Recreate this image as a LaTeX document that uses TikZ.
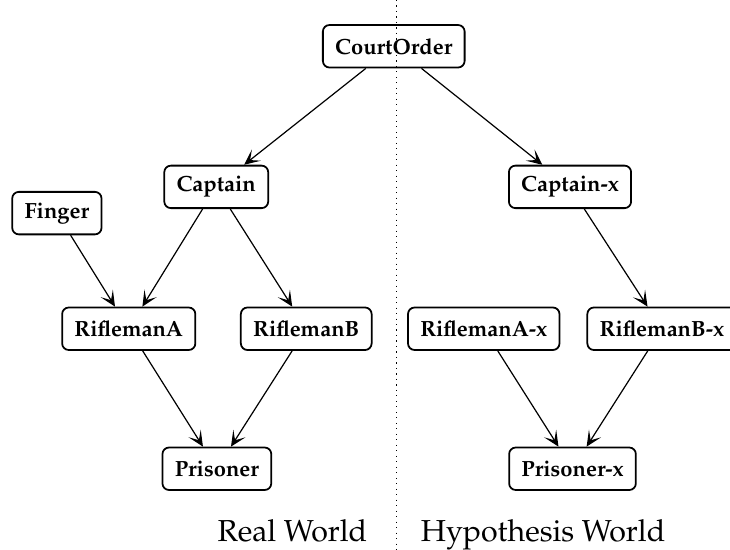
\documentclass[tikz,border=0pt]{standalone}
\usepackage[T1]{fontenc}
\usepackage{mathpazo}
\usetikzlibrary{arrows.meta}

\begin{document}
\begin{tikzpicture}[
  x=1cm, y=1cm, font=\bfseries,
  var/.style={draw, rounded corners=3pt, line width=0.8pt, minimum height=0.68cm, inner xsep=5.6pt},
  cause/.style={-{Stealth[length=2.5mm,width=2.3mm,inset=1.3mm]}, line width=0.55pt},
  world/.style={font=\fontsize{13.8}{16}\selectfont\mdseries}
]
\useasboundingbox (0,0) rectangle (11.68,-8.8);

% divider between the two worlds
\draw[dotted, line width=0.5pt] (6.34,0) -- (6.34,-8.8);

% actual world
\node[var] (court) at (6.30,-0.74) {CourtOrder};
\node[var] (capt) at (3.46,-2.99) {Captain};
\node[var] (finger) at (0.91,-3.41) {Finger};
\node[var] (ra) at (2.06,-5.26) {RiflemanA};
\node[var] (rb) at (4.90,-5.26) {RiflemanB};
\node[var] (pris) at (3.47,-7.50) {Prisoner};

% counterfactual copy
\node[var] (captx) at (9.12,-2.99) {Captain-x};
\node[var] (rax) at (7.74,-5.26) {RiflemanA-x};
\node[var] (rbx) at (10.59,-5.26) {RiflemanB-x};
\node[var] (prisx) at (9.16,-7.50) {Prisoner-x};

\draw[cause] (court) -- (capt);
\draw[cause] (court) -- (captx);
\draw[cause] (capt) -- (ra);
\draw[cause] (capt) -- (rb);
\draw[cause] (finger) -- (ra);
\draw[cause] (ra) -- (pris);
\draw[cause] (rb) -- (pris);
\draw[cause] (captx) -- (rbx);
\draw[cause] (rax) -- (prisx);
\draw[cause] (rbx) -- (prisx);

\node[world, anchor=base east] (real) at (6.00,-8.67) {Real World};
\node[world, anchor=base west] (hyp) at (6.61,-8.67) {Hypothesis World};
\end{tikzpicture}
\end{document}
